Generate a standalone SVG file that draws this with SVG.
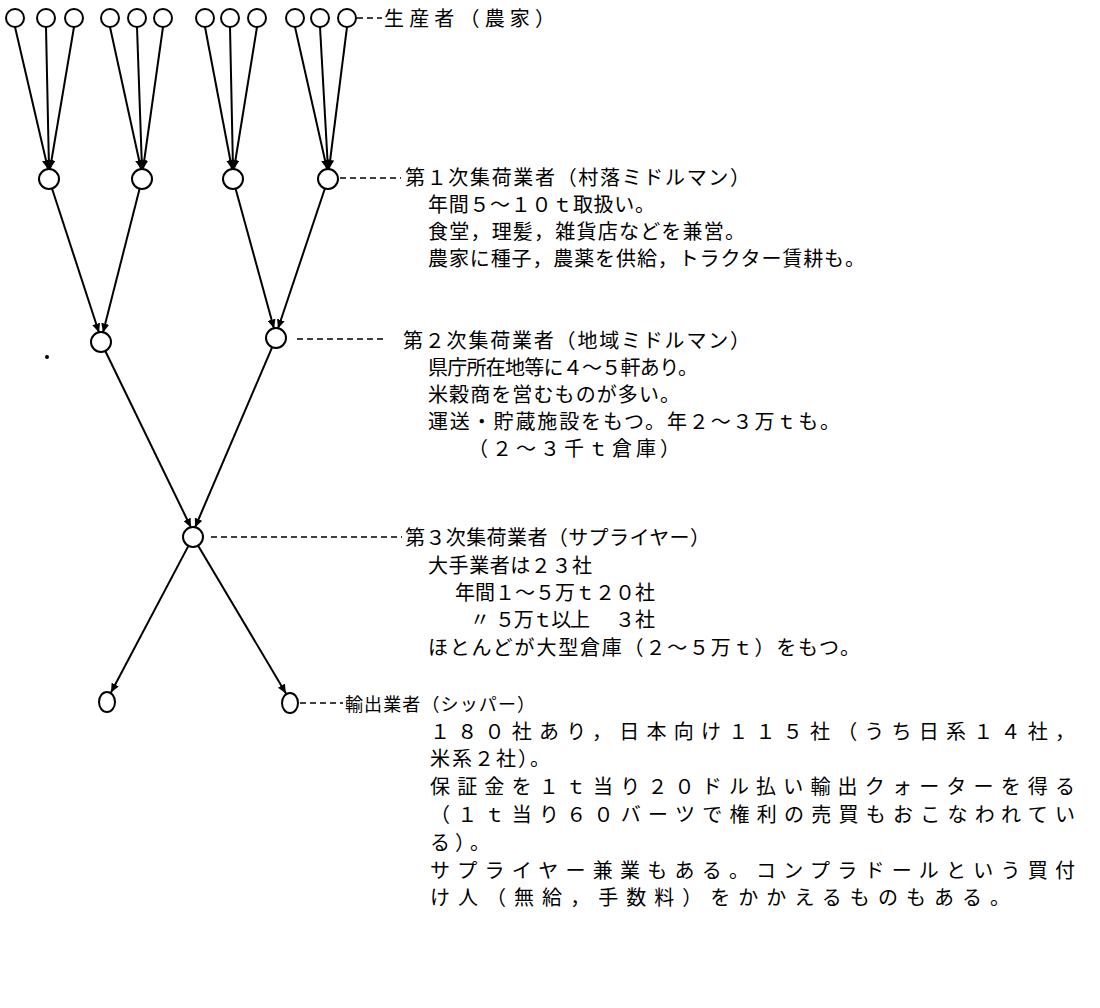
<svg xmlns="http://www.w3.org/2000/svg" width="1100" height="1008" viewBox="0 0 1100 1008">
<style>
.n{fill:#fff;stroke:#000;stroke-width:2}
.c line{stroke:#000;stroke-width:2;marker-end:url(#ah)}
.d{stroke:#000;stroke-width:1.3;stroke-dasharray:6 4}
text{font-family:"Noto Sans CJK JP","Noto Sans CJK SC",sans-serif;font-size:20px;fill:#000}
</style>
<defs>
<marker id="ah" markerUnits="userSpaceOnUse" markerWidth="10" markerHeight="8" refX="9" refY="4" orient="auto">
<path d="M0,0 L9,4 L0,8 Z" fill="#000"/>
</marker>
</defs>
<rect width="1100" height="1008" fill="#fff"/>
<g id="connectors" class="c">
<line x1="15" y1="27" x2="48" y2="169"/>
<line x1="46" y1="27" x2="49" y2="169"/>
<line x1="74" y1="27" x2="50" y2="169"/>
<line x1="110" y1="27" x2="141" y2="169"/>
<line x1="137" y1="27" x2="142" y2="169"/>
<line x1="163" y1="27" x2="143" y2="169"/>
<line x1="205" y1="27" x2="232" y2="169"/>
<line x1="230" y1="27" x2="233" y2="169"/>
<line x1="257" y1="27" x2="234" y2="169"/>
<line x1="295" y1="27" x2="327" y2="169"/>
<line x1="320" y1="27" x2="328" y2="169"/>
<line x1="347" y1="27" x2="329" y2="169"/>
<line x1="52" y1="188.5" x2="99" y2="332.5"/>
<line x1="139.6" y1="188.7" x2="103" y2="332.5"/>
<line x1="235.6" y1="188.7" x2="274" y2="328.5"/>
<line x1="324.9" y1="188.5" x2="278" y2="328.5"/>
<line x1="105.3" y1="351" x2="191" y2="527.5"/>
<line x1="272.2" y1="347.2" x2="195" y2="527.5"/>
<line x1="188.4" y1="545.9" x2="111" y2="692.5"/>
<line x1="198" y1="545.6" x2="286" y2="693.4"/>
</g>
<g id="leaders">
<line class="d" x1="357" y1="18" x2="382" y2="18"/>
<line class="d" x1="340" y1="178" x2="401" y2="178"/>
<line class="d" x1="297" y1="339" x2="386" y2="339"/>
<line class="d" x1="211" y1="537" x2="402" y2="537"/>
<line class="d" x1="300" y1="703" x2="343" y2="703"/>
</g>
<g id="producers">
<circle class="n" cx="15" cy="18" r="9"/>
<circle class="n" cx="46" cy="18" r="9"/>
<circle class="n" cx="74" cy="18" r="9"/>
<circle class="n" cx="110" cy="18" r="9"/>
<circle class="n" cx="137" cy="18" r="9"/>
<circle class="n" cx="163" cy="18" r="9"/>
<circle class="n" cx="205" cy="18" r="9"/>
<circle class="n" cx="230" cy="18" r="9"/>
<circle class="n" cx="257" cy="18" r="9"/>
<circle class="n" cx="295" cy="18" r="9"/>
<circle class="n" cx="320" cy="18" r="9"/>
<circle class="n" cx="347" cy="18" r="9"/>
<text x="384" y="26" textLength="171" lengthAdjust="spacing">生産者（農家）</text>
</g>
<g id="collector1">
<circle class="n" cx="49" cy="179" r="10"/>
<circle class="n" cx="142" cy="179" r="10"/>
<circle class="n" cx="233" cy="179" r="10"/>
<circle class="n" cx="328" cy="179" r="10"/>
<text x="405" y="185" textLength="345" lengthAdjust="spacing">第１次集荷業者（村落ミドルマン）</text>
<text x="428" y="212" textLength="227" lengthAdjust="spacing">年間５～１０ｔ取扱い。</text>
<text x="428" y="239" textLength="317" lengthAdjust="spacing">食堂，理髪，雑貨店などを兼営。</text>
<text x="428" y="266" textLength="437" lengthAdjust="spacing">農家に種子，農薬を供給，トラクター賃耕も。</text>
</g>
<g id="collector2">
<circle class="n" cx="101" cy="342" r="10"/>
<circle class="n" cx="276" cy="338" r="10"/>
<text x="403" y="348" textLength="347" lengthAdjust="spacing">第２次集荷業者（地域ミドルマン）</text>
<text x="428" y="375" textLength="270" lengthAdjust="spacing">県庁所在地等に４～５軒あり。</text>
<text x="428" y="402" textLength="252" lengthAdjust="spacing">米穀商を営むものが多い。</text>
<text x="428" y="429" textLength="412" lengthAdjust="spacing">運送・貯蔵施設をもつ。年２～３万ｔも。</text>
<text x="468" y="456" textLength="212" lengthAdjust="spacing">（２～３千ｔ倉庫）</text>
</g>
<g id="collector3">
<circle class="n" cx="193" cy="537" r="10"/>
<text x="405" y="545" textLength="305" lengthAdjust="spacing">第３次集荷業者（サプライヤー）</text>
<text x="428" y="573" textLength="164" lengthAdjust="spacing">大手業者は２３社</text>
<text x="455" y="600" textLength="200" lengthAdjust="spacing">年間１～５万ｔ２０社</text>
<text x="470" y="627">〃</text>
<text x="495" y="627" textLength="95" lengthAdjust="spacing">５万ｔ以上</text>
<text x="615" y="627" textLength="40" lengthAdjust="spacing">３社</text>
<text x="428" y="655" textLength="432" lengthAdjust="spacing">ほとんどが大型倉庫（２～５万ｔ）をもつ。</text>
</g>
<g id="exporter">
<ellipse class="n" cx="107" cy="702" rx="8" ry="10"/>
<ellipse class="n" cx="290" cy="703" rx="8" ry="10"/>
<text x="345" y="711" textLength="190" lengthAdjust="spacing" style="font-size:18px">輸出業者（シッパー）</text>
<text x="430" y="739" textLength="645" lengthAdjust="spacing">１８０社あり，日本向け１１５社（うち日系１４社，</text>
<text x="430" y="766" textLength="120" lengthAdjust="spacing">米系２社）。</text>
<text x="430" y="794" textLength="645" lengthAdjust="spacing">保証金を１ｔ当り２０ドル払い輸出クォーターを得る</text>
<text x="430" y="822" textLength="645" lengthAdjust="spacing">（１ｔ当り６０バーツで権利の売買もおこなわれてい</text>
<text x="430" y="850" textLength="60" lengthAdjust="spacing">る）。</text>
<text x="430" y="878" textLength="645" lengthAdjust="spacing">サプライヤー兼業もある。コンプラドールという買付</text>
<text x="430" y="905" textLength="580" lengthAdjust="spacing">け人（無給，手数料）をかかえるものもある。</text>
</g>
<circle cx="47" cy="357" r="2" fill="#000"/>
</svg>
